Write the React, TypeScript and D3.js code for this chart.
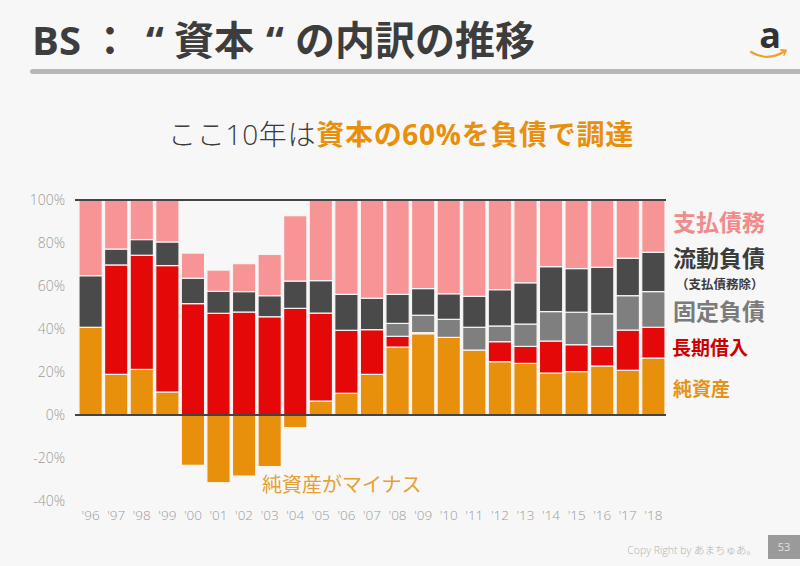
import React from "react";
import * as d3 from "d3";

const years = ["'96","'97","'98","'99","'00","'01","'02","'03","'04","'05","'06","'07","'08","'09","'10","'11","'12","'13","'14","'15","'16","'17","'18"];
const netAssets = [40.8,18.9,21.2,10.7,-23.4,-31.5,-28.4,-24.0,-5.9,6.5,10.1,18.9,31.6,37.8,36.1,30.2,24.8,24.0,19.5,20.2,22.8,20.8,26.5];
const longTermDebt = [0,50.9,53.1,58.8,51.8,47.3,47.9,45.7,49.6,40.9,29.3,20.8,5.0,0.5,0,0,9.3,7.9,14.9,12.5,9.1,18.7,14.3];
const fixedLiabilities = [0,0,0,0,0,0,0,0,0,0,0,0,6.0,8.1,8.4,10.6,7.3,10.4,13.7,15.1,15.2,16.0,16.6];
const currentLiabilities = [24.0,7.4,7.3,11.0,11.8,10.2,9.5,9.8,12.7,15.1,16.7,14.6,13.5,12.4,11.9,14.4,16.9,19.2,20.9,20.3,21.6,17.4,18.3];
const payables = [35.2,22.8,18.4,19.5,11.7,9.9,13.0,19.2,30.4,37.5,43.9,45.7,43.9,41.2,43.6,44.8,41.7,38.5,31.0,31.9,31.3,27.1,24.3];
const yTicks = [-40,-20,0,20,40,60,80,100];

const seriesKeys = ["netAssets","longTermDebt","fixedLiabilities","currentLiabilities","payables"];
const seriesColors: Record<string,string> = {
  netAssets: "#e8900c",
  longTermDebt: "#e50808",
  fixedLiabilities: "#7f7f7f",
  currentLiabilities: "#4a4a4a",
  payables: "#f79596",
};

export default function App() {
  const rows = years.map((y, i) => ({
    year: y,
    netAssets: netAssets[i],
    longTermDebt: longTermDebt[i],
    fixedLiabilities: fixedLiabilities[i],
    currentLiabilities: currentLiabilities[i],
    payables: payables[i],
  }));
  const stack = d3.stack<any>().keys(seriesKeys).offset(d3.stackOffsetDiverging);
  const layers = stack(rows);

  const x = d3.scaleBand<string>().domain(years).range([77.7, 666.3]).paddingInner(0.09).paddingOuter(0.05);
  const y = d3.scaleLinear().domain([-40, 100]).range([501, 200]);

  const axisX0 = 75;
  const axisX1 = 666;
  const titleFont = "'Open Sans', 'Noto Sans CJK JP', sans-serif";

  return (
    <svg width={800} height={566} style={{ position: "absolute", left: 0, top: 0, display: "block" }}
      fontFamily="'Open Sans', 'Noto Sans CJK JP', sans-serif">
      <rect x={0} y={0} width={800} height={566} fill="#f7f7f7" />
      {/* Title */}
      <text y={55} fontSize={40} fontWeight={700} fill="#3d3d3d" fontFamily={titleFont}>
        <tspan x={32}>BS</tspan>
        <tspan x={90}>：</tspan>
        <tspan x={146}>“</tspan>
        <tspan x={174}>資本</tspan>
        <tspan x={266}>“</tspan>
        <tspan x={295}>の内訳の推移</tspan>
      </text>
      <rect x={30} y={69} width={790} height={5} rx={2.5} fill="#b7b7b7" />
      {/* Amazon logo */}
      <text x={770} y={48} fontSize={36} fontWeight={700} fill="#333" textAnchor="middle"
        fontFamily="'Open Sans', sans-serif">a</text>
      <path d="M751,52 Q768,62 785,51" fill="none" stroke="#f0a030" strokeWidth={2.2} strokeLinecap="round" />
      <path d="M781,50 L786,50.5 L784,55" fill="none" stroke="#f0a030" strokeWidth={1.8} strokeLinecap="round" />

      {/* Subtitle */}
      <text x={401} y={145} fontSize={28} letterSpacing={0.7} textAnchor="middle" fill="#3a3a3a"
        fontFamily="'Open Sans', 'Noto Sans CJK JP', sans-serif">
        <tspan fontWeight={300}>ここ10年は</tspan>
        <tspan fontWeight={700} fill="#e8900c">資本の60%を負債で調達</tspan>
      </text>

      {/* Bars */}
      {layers.map((layer) => (
        <g key={layer.key}>
          {layer.map((d: any, i: number) => {
            const v = (rows[i] as any)[layer.key];
            if (!v) return null;
            const y0 = y(d[0]);
            const y1 = y(d[1]);
            return (
              <rect key={i} x={x(years[i])} width={x.bandwidth()} y={Math.min(y0, y1)}
                height={Math.abs(y1 - y0)} fill={seriesColors[layer.key]}
                stroke="#f5f5f5" strokeWidth={1.2} />
            );
          })}
        </g>
      ))}

      {/* Axis lines */}
      <line x1={axisX0} x2={axisX1} y1={y(100)} y2={y(100)} stroke="#444" strokeWidth={2} />
      <line x1={axisX0} x2={axisX1} y1={y(0)} y2={y(0)} stroke="#444" strokeWidth={2} />

      {/* Y tick labels */}
      {yTicks.map((t) => (
        <text key={t} x={65} y={y(t) + 5} fontSize={14} fontWeight={300} fill="#9a9a9a" textAnchor="end">{t}%</text>
      ))}
      {/* X tick labels */}
      {years.map((yr) => (
        <text key={yr} x={(x(yr) as number) + x.bandwidth() / 2} y={520} fontSize={13.5} fontWeight={300}
          fill="#9a9a9a" textAnchor="middle">{yr}</text>
      ))}

      {/* Annotation */}
      <text x={262} y={492} fontSize={20} fontWeight={400} fill="#e6a034"
        fontFamily="'Noto Sans CJK JP', sans-serif">純資産がマイナス</text>

      {/* Legend */}
      <g fontFamily="'Noto Sans CJK JP', sans-serif" fontWeight={700}>
        <text x={673} y={231} fontSize={23} fill="#f08a8b">支払債務</text>
        <text x={673} y={267} fontSize={23} fill="#3c3c3c">流動負債</text>
        <text x={676} y={289} fontSize={12.5} fill="#3c3c3c">（支払債務除）</text>
        <text x={673} y={320} fontSize={23} fill="#7b7b7b">固定負債</text>
        <text x={672} y={355} fontSize={19} fill="#cc0000">長期借入</text>
        <text x={673} y={396} fontSize={19} fill="#e39318">純資産</text>
      </g>

      {/* Footer */}
      <text x={757} y={554} fontSize={10.5} fontWeight={300} fill="#b0b0b0" textAnchor="end">Copy Right by あまちゅあ。</text>
      <rect x={768} y={535} width={32} height={24} fill="#9a9a9a" />
      <text x={784} y={551} fontSize={11} fill="#e0e0e0" textAnchor="middle">53</text>
    </svg>
  );
}
